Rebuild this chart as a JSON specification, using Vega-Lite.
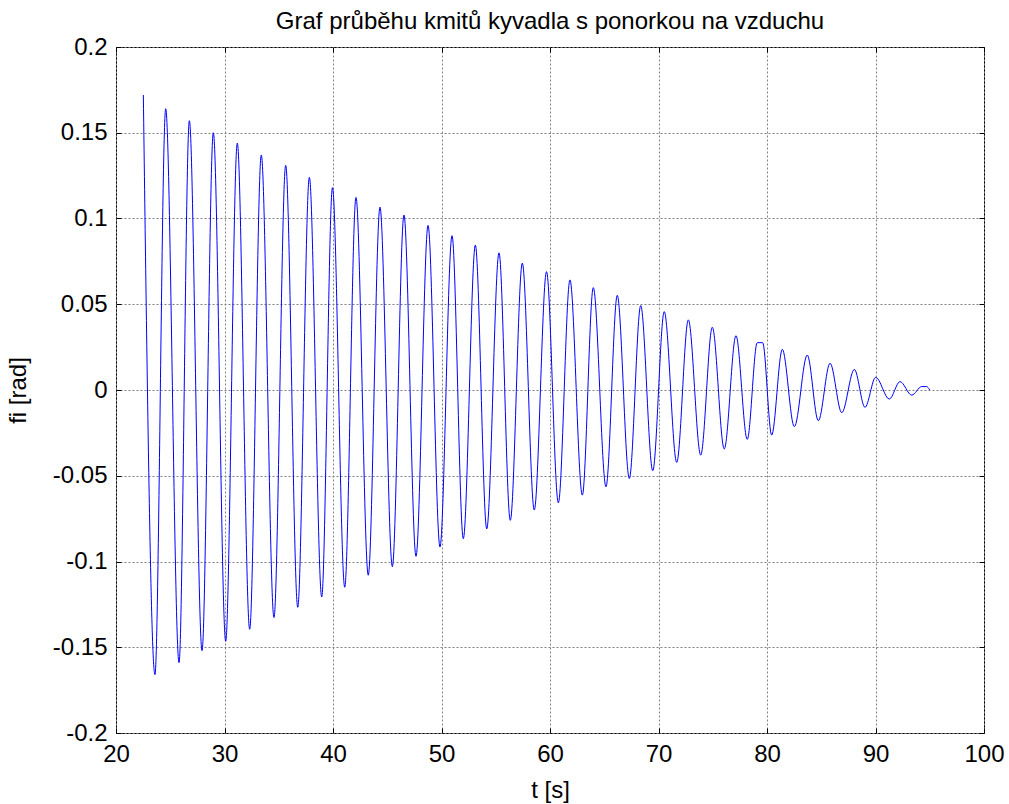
{
  "$schema": "https://vega.github.io/schema/vega-lite/v6.json",
  "width": 868,
  "height": 686,
  "autosize": {"type": "none"},
  "padding": {"left": 116, "top": 47, "right": 25, "bottom": 71},
  "background": "white",
  "title": {"text": "Graf průběhu kmitů kyvadla s ponorkou na vzduchu", "font": "Liberation Sans", "fontSize": 24, "fontWeight": "normal", "color": "#000", "offset": 1},
  "config": {
    "view": {"stroke": "#000", "strokeWidth": 1},
    "axis": {
      "domain": false,
      "labelFont": "Liberation Sans", "labelFontSize": 24, "labelColor": "#000",
      "titleFont": "Liberation Sans", "titleFontSize": 24, "titleFontWeight": "normal", "titleColor": "#000",
      "tickColor": "#000", "tickSize": -5, "tickWidth": 1,
      "gridColor": "#808080", "gridDash": [2, 2], "gridWidth": 1, "gridOpacity": 1
    }
  },
  "data": {"values": [
    {"t": 22.52, "fi": 0.172}, {"t": 23.59, "fi": -0.166}, {"t": 24.58, "fi": 0.164}, {"t": 25.81, "fi": -0.159},
    {"t": 26.76, "fi": 0.157}, {"t": 27.93, "fi": -0.152}, {"t": 28.97, "fi": 0.150}, {"t": 30.11, "fi": -0.1465},
    {"t": 31.18, "fi": 0.144}, {"t": 32.32, "fi": -0.1395}, {"t": 33.39, "fi": 0.137}, {"t": 34.56, "fi": -0.1327},
    {"t": 35.64, "fi": 0.131}, {"t": 36.75, "fi": -0.1267}, {"t": 37.82, "fi": 0.124}, {"t": 38.96, "fi": -0.1207},
    {"t": 39.95, "fi": 0.118}, {"t": 41.08, "fi": -0.115}, {"t": 42.12, "fi": 0.1123}, {"t": 43.25, "fi": -0.108},
    {"t": 44.33, "fi": 0.1066}, {"t": 45.47, "fi": -0.103}, {"t": 46.54, "fi": 0.102}, {"t": 47.65, "fi": -0.097},
    {"t": 48.76, "fi": 0.096}, {"t": 49.86, "fi": -0.0915}, {"t": 50.97, "fi": 0.090}, {"t": 52.01, "fi": -0.0867},
    {"t": 53.12, "fi": 0.0845}, {"t": 54.17, "fi": -0.081}, {"t": 55.30, "fi": 0.080}, {"t": 56.34, "fi": -0.076},
    {"t": 57.45, "fi": 0.074}, {"t": 58.55, "fi": -0.070}, {"t": 59.68, "fi": 0.069}, {"t": 60.77, "fi": -0.0658},
    {"t": 61.84, "fi": 0.0642}, {"t": 62.98, "fi": -0.0613}, {"t": 63.99, "fi": 0.0597}, {"t": 65.16, "fi": -0.0564},
    {"t": 66.20, "fi": 0.0552}, {"t": 67.31, "fi": -0.0516}, {"t": 68.36, "fi": 0.0492}, {"t": 69.47, "fi": -0.0471},
    {"t": 70.53, "fi": 0.0457}, {"t": 71.68, "fi": -0.0422}, {"t": 72.75, "fi": 0.0409}, {"t": 73.89, "fi": -0.038},
    {"t": 74.96, "fi": 0.0366}, {"t": 76.06, "fi": -0.0344}, {"t": 77.14, "fi": 0.0317}, {"t": 78.18, "fi": -0.0288},
    {"t": 79.10, "fi": 0.0276}, {"t": 79.60, "fi": 0.0276}, {"t": 80.43, "fi": -0.0263}, {"t": 81.41, "fi": 0.0237},
    {"t": 82.52, "fi": -0.0214}, {"t": 83.71, "fi": 0.0204}, {"t": 84.73, "fi": -0.0179}, {"t": 85.81, "fi": 0.0156},
    {"t": 86.89, "fi": -0.0132}, {"t": 88.05, "fi": 0.012}, {"t": 89.03, "fi": -0.0101}, {"t": 90.02, "fi": 0.0074},
    {"t": 91.27, "fi": -0.0053}, {"t": 92.26, "fi": 0.0049}, {"t": 93.34, "fi": -0.003}, {"t": 94.26, "fi": 0.002},
    {"t": 94.70, "fi": 0.002}, {"t": 95.00, "fi": 0.0}
  ]},
  "layer": [
    {
      "mark": {"type": "line", "color": "#0000ff", "strokeWidth": 1, "interpolate": "monotone"},
      "encoding": {
        "x": {"field": "t", "type": "quantitative", "scale": {"domain": [20, 100], "nice": false, "zero": false},
              "axis": {"orient": "bottom", "values": [20, 30, 40, 50, 60, 70, 80, 90, 100], "labelPadding": 14, "title": "t [s]", "titleX": 434, "titleY": 57, "titleBaseline": "middle", "labelFlush": false}},
        "y": {"field": "fi", "type": "quantitative", "scale": {"domain": [-0.2, 0.2], "nice": false, "zero": false},
              "axis": {"orient": "left", "values": [-0.2, -0.15, -0.1, -0.05, 0, 0.05, 0.1, 0.15, 0.2], "labelExpr": "'' + datum.value", "labelPadding": 14, "title": "fi [rad]", "titleX": -98, "titleY": 343, "titleBaseline": "middle", "titleAngle": -90, "labelFlush": false}}
      }
    },
    {
      "mark": {"type": "line", "opacity": 0},
      "encoding": {
        "x": {"field": "t", "type": "quantitative",
              "axis": {"orient": "top", "values": [20, 30, 40, 50, 60, 70, 80, 90, 100], "labels": false, "title": null, "grid": false}},
        "y": {"field": "fi", "type": "quantitative",
              "axis": {"orient": "right", "values": [-0.2, -0.15, -0.1, -0.05, 0, 0.05, 0.1, 0.15, 0.2], "labels": false, "title": null, "grid": false}}
      }
    }
  ],
  "resolve": {"axis": {"x": "independent", "y": "independent"}}
}
